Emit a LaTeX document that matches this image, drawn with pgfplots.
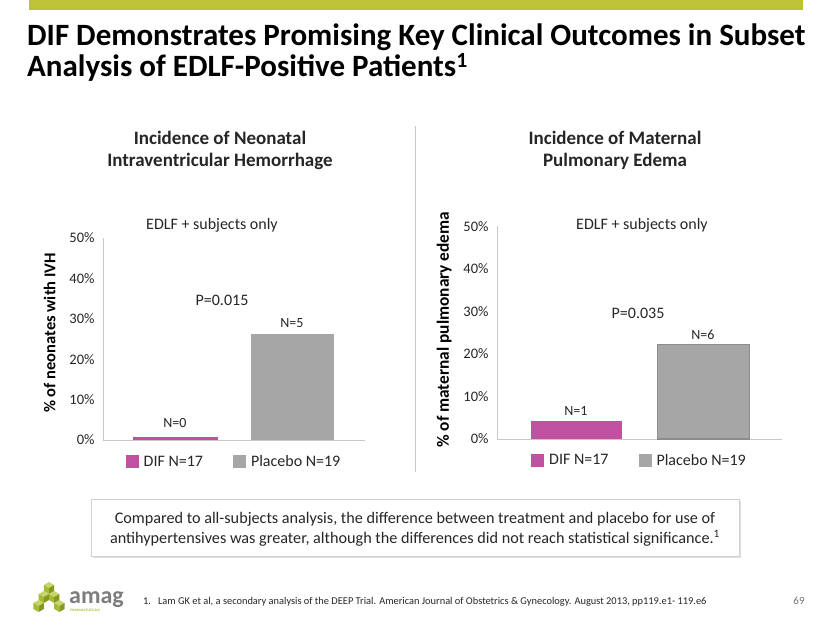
\documentclass[border=0pt]{standalone}
\usepackage{pgfplots}
\pgfplotsset{compat=1.18}
\usepackage{fontspec}
\setmainfont{Carlito}
\definecolor{dif}{RGB}{192,80,160}
\definecolor{plac}{RGB}{166,166,166}
\definecolor{placedge}{RGB}{140,140,140}
\definecolor{olivebar}{RGB}{190,194,55}
\definecolor{axgray}{RGB}{200,200,200}
\definecolor{txt}{RGB}{38,38,38}
\definecolor{logoA}{RGB}{200,212,110}
\definecolor{logoB}{RGB}{168,186,50}
\definecolor{logoC}{RGB}{135,152,30}
\definecolor{amaggray}{RGB}{125,125,125}
\newcommand{\fs}[1]{\fontsize{#1}{#1}\selectfont}
\tikzset{cube/.pic={
  \fill[logoA] (0,0)--(-5.2,3)--(0,6)--(5.2,3)--cycle;
  \fill[logoB] (0,0)--(-5.2,3)--(-5.2,-3)--(0,-6)--cycle;
  \fill[logoC] (0,0)--(5.2,3)--(5.2,-3)--(0,-6)--cycle;}}
\pgfplotsset{
  slide/.style={
    scale only axis, ybar, bar shift=0pt,
    ymin=0, ymax=50, ytick={0,10,20,30,40,50},
    yticklabels={0\%,10\%,20\%,30\%,40\%,50\%},
    xtick=\empty, major tick length=0pt,
    axis x line*=bottom, axis y line*=left,
    axis line style={draw=axgray, line width=0.8pt},
    tick label style={font=\fs{14.5}, text=txt},
    yticklabel style={xshift=-5pt},
    legend columns=2,
    legend style={draw=none, fill=none, font=\fs{16}, text=txt,
      /tikz/every odd column/.append style={column sep=3pt},
      /tikz/every even column/.append style={column sep=28pt}},
    legend image code/.code={\fill[##1,draw=none] (0pt,-6pt) rectangle (13pt,7pt);},
    clip=false,
  }
}
\begin{document}
\begin{tikzpicture}
\begin{scope}[x=1pt,y=1pt]
\path[use as bounding box] (0,0) rectangle (830,623);
\fill[white] (0,0) rectangle (830,623);
\fill[olivebar] (29,623) rectangle (803,613);
\node[anchor=base west, inner sep=0, font=\fs{31}\bfseries] at (27,{623-46}) {DIF Demonstrates Promising Key Clinical Outcomes in Subset};
\node[anchor=base west, inner sep=0, font=\fs{31}\bfseries] at (27,{623-77}) {Analysis of EDLF-Positive Patients\textsuperscript{1}};
% chart titles
\node[font=\fs{19}\bfseries, text=txt, align=center, inner sep=0] at (220,{623-150}) {Incidence of Neonatal\\[3pt]Intraventricular Hemorrhage};
\node[font=\fs{19}\bfseries, text=txt, align=center, inner sep=0] at (615,{623-150}) {Incidence of Maternal\\[3pt]Pulmonary Edema};
% separator
\draw[axgray, line width=0.8pt] (415.5,{623-126}) -- (415.5,{623-472});
% annotations
\node[font=\fs{16}, text=txt] at (212,{623-225}) {EDLF + subjects only};
\node[font=\fs{16}, text=txt] at (222,{623-300}) {P=0.015};
\node[font=\fs{14}, text=txt] at (292,{623-323}) {N=5};
\node[font=\fs{14}, text=txt] at (175,{623-423}) {N=0};
\node[font=\fs{16}, text=txt] at (642,{623-225}) {EDLF + subjects only};
\node[font=\fs{16}, text=txt] at (638,{623-313}) {P=0.035};
\node[font=\fs{14}, text=txt] at (703,{623-335}) {N=6};
\node[font=\fs{14}, text=txt] at (576,{623-411}) {N=1};
% box
\fill[black!12] (93,{623-501}) rectangle (741,{623-558});
\draw[black!18, fill=white, line width=0.8pt] (91,{623-499}) rectangle (739,{623-556});
\node[font=\fs{16.2}, text=txt, align=center, inner sep=0] at (415,{623-529}) {Compared to all-subjects analysis, the difference between treatment and placebo for use of\\[3pt]antihypertensives was greater, although the differences did not reach statistical significance.\textsuperscript{1}};
% footnote
\node[anchor=base west, inner sep=0, font=\fs{10.4}, text=txt] at (143,{623-605}) {1.\hspace{7pt}Lam GK et al, a secondary analysis of the DEEP Trial. American Journal of Obstetrics \& Gynecology. August 2013, pp119.e1- 119.e6};
\node[anchor=base, inner sep=0, font=\fs{11}, text=black!55] at (799,{623-605}) {69};
% logo
\pic at (49,{623-588}) {cube};
\pic at (43.8,{623-597}) {cube};
\pic at (54.2,{623-597}) {cube};
\pic at (38.6,{623-606}) {cube};
\pic at (59.4,{623-606}) {cube};
\node[anchor=base west, inner sep=0, font=\fs{24}\bfseries, text=amaggray] at (69,{623-604}) {amag};
\node[anchor=base west, inner sep=0, font=\fs{3.6}\bfseries, text=logoB] at (70,{623-612}) {PHARMACEUTICALS};
\end{scope}

% left chart
\begin{axis}[slide, at={(103pt,183pt)}, anchor=south west,
  width=262pt, height=202pt, xmin=-0.62, xmax=1.62,
  ylabel={\% of neonates with IVH},
  ylabel style={font=\fs{16.5}\bfseries, text=black, xshift=6pt, yshift=7pt},
  legend style={at={(0.5,-0.055)}, anchor=north}]
\addplot[fill=dif, draw=none, bar width=85pt] coordinates {(0,0.7)};
\addlegendentry{DIF N=17}
\addplot[fill=plac, draw=none, bar width=83pt] coordinates {(1,26.3)};
\addlegendentry{Placebo N=19}
\end{axis}

% right chart
\begin{axis}[slide, at={(497pt,184pt)}, anchor=south west,
  width=285pt, height=212.5pt, xmin=-0.626, xmax=1.618,
  ylabel={\% of maternal pulmonary edema},
  ylabel style={font=\fs{17.3}\bfseries, text=black, xshift=3pt, yshift=5pt},
  legend style={at={(0.5,-0.052)}, anchor=north}]
\addplot[fill=dif, draw=none, bar width=91pt] coordinates {(0,4.2)};
\addlegendentry{DIF N=17}
\addplot[fill=plac, draw=placedge, line width=1.2pt, bar width=92pt] coordinates {(1,22.2)};
\addlegendentry{Placebo N=19}
\end{axis}
\end{tikzpicture}
\end{document}
